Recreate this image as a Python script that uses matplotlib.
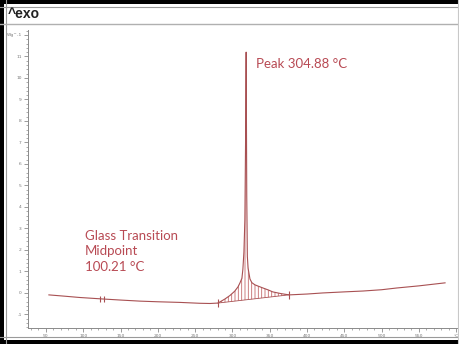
import matplotlib
matplotlib.use("Agg")
import matplotlib.pyplot as plt
from matplotlib.patches import Rectangle
from matplotlib.lines import Line2D
from matplotlib.ticker import MultipleLocator
import numpy as np

# DSC curve (temperature in C, heat flow in W/g)
temp = [54, 75, 95, 126, 150, 176, 200, 230, 256, 270, 280.6, 290, 296.6, 303,
        307.4, 310, 312.7, 314, 315.4, 316.7, 317.6, 318.4, 319.2, 320, 321,
        323.5, 326, 330, 335, 341, 348, 354, 365, 376, 400, 421, 450, 475, 500,
        520, 550, 585]
flow = [-0.09, -0.15, -0.21, -0.28, -0.33, -0.38, -0.41, -0.44, -0.48, -0.49,
        -0.47, -0.28, -0.12, 0.08, 0.28, 0.46, 0.68, 1.1, 1.9, 3.4, 7.0,
        11.2, 4.5, 1.7, 1.15, 0.65, 0.48, 0.38, 0.31, 0.23, 0.14, 0.05, -0.03,
        -0.09, -0.05, 0.0, 0.05, 0.09, 0.15, 0.23, 0.33, 0.47]

peak_limits = [280.6, 375.7]     # integration baseline ends
tg_marks = [123, 128]            # glass transition marks
x_ticks = [50, 100, 150, 200, 250, 300, 350, 400, 450, 500, 550, 600]
x_labels = ['50', '100', '150', '200', '250', '300', '350', '400', '450', '500', '550', '°C']
y_ticks = list(range(-1, 13))
y_labels = [str(v) for v in range(-1, 12)] + ['Wg^-1']

curve_col = '#a85052'
text_col = '#b84a54'
hatch_col = '#c46a6c'
grey = '#8a8a8a'

fig = plt.figure(figsize=(4.6, 3.44), dpi=100)
ax = fig.add_axes([28/460, 1-328/344, (457-28)/460, (328-30)/344])

ax.plot(temp, flow, color=curve_col, lw=0.8)

# hatched peak area between curve and straight baseline
t_fill = np.linspace(peak_limits[0], peak_limits[1], 400)
f_curve = np.interp(t_fill, temp, flow)
f_base = np.interp(t_fill, peak_limits, np.interp(peak_limits, temp, flow))
plt.rcParams['hatch.linewidth'] = 0.6
plt.rcParams['hatch.color'] = hatch_col
ax.fill_between(t_fill, f_base, f_curve, facecolor='none', edgecolor=hatch_col,
                hatch='|||||', lw=0)
ax.plot(peak_limits, np.interp(peak_limits, temp, flow), color=curve_col, lw=0.6)
ax.plot(peak_limits, np.interp(peak_limits, temp, flow), ls='none', marker='|',
        ms=6, mew=0.8, color=curve_col)
ax.plot(tg_marks, np.interp(tg_marks, temp, flow), ls='none', marker='|',
        ms=5, mew=0.8, color=curve_col)

ax.text(331, 10.65, 'Peak 304.88 °C', color=text_col, fontsize=9.5,
        family='Lato', va='center', ha='left')
ax.text(102, 1.95, 'Glass Transition\nMidpoint\n100.21 °C', color=text_col,
        fontsize=9.5, family='Lato', va='center', ha='left', linespacing=1.35)

ax.set_xlim(26, 601)
ax.set_ylim(-1.63, 12.23)
ax.set_xticks(x_ticks)
ax.set_xticklabels(x_labels)
ax.set_yticks(y_ticks)
ax.set_yticklabels(y_labels)
ax.xaxis.set_minor_locator(MultipleLocator(10))
ax.yaxis.set_minor_locator(MultipleLocator(0.2))
ax.tick_params(which='major', length=3, width=0.6, color=grey, labelsize=3.2,
               labelcolor='#777777', pad=1.5)
ax.tick_params(which='minor', length=1.5, width=0.5, color=grey)
for s in ['top', 'right']:
    ax.spines[s].set_visible(False)
for s in ['left', 'bottom']:
    ax.spines[s].set_color(grey)
    ax.spines[s].set_linewidth(0.7)

# window frame around the plot
W, H = 460, 344
def box(x0, y0, w, h, col):
    fig.add_artist(Rectangle((x0/W, 1-(y0+h)/H), w/W, h/H, transform=fig.transFigure,
                             facecolor=col, edgecolor='none'))
def hline(y, col, lw=0.8):
    fig.add_artist(Line2D([0, 1], [1-y/H, 1-y/H], transform=fig.transFigure, color=col, lw=lw))
def vline(x, col, lw=0.8):
    fig.add_artist(Line2D([x/W, x/W], [0, 1], transform=fig.transFigure, color=col, lw=lw))

box(0, 0, W, 4, 'black')
box(0, 0, 4, H, 'black')
box(0, 340, W, 4, 'black')
hline(6.5, '#9a9a9a')
vline(6.5, '#9a9a9a')
hline(337, '#9a9a9a')
hline(23.5, '#b0b0b0', 1.0)
vline(458, '#c8c8c8')
fig.text(8/W, 1-14/H, '^exo', fontsize=10, fontweight='bold', color='#222222',
         va='center', ha='left', family='Liberation Sans')

fig.savefig('out.png', dpi=100)
